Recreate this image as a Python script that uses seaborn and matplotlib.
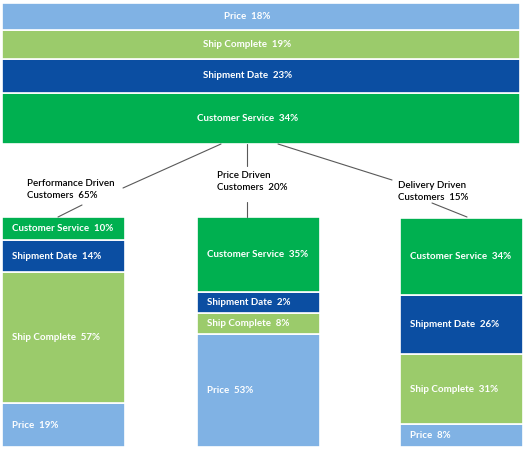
import numpy as np
import pandas as pd
import matplotlib
matplotlib.use('Agg')
import matplotlib.pyplot as plt
from matplotlib.lines import Line2D
from matplotlib.colors import to_hex
import seaborn as sns

# Chart data
segments = ['Customer Service', 'Shipment Date', 'Ship Complete', 'Price']
overall = [34, 23, 19, 18]
groups = ['Performance Driven\nCustomers', 'Price Driven\nCustomers', 'Delivery Driven\nCustomers']
group_share = [65, 20, 15]
performance = [10, 14, 57, 19]
price_driven = [35, 2, 8, 53]
delivery = [34, 26, 31, 8]

colors = {'Customer Service': '#00B050', 'Shipment Date': '#0B4EA2',
          'Ship Complete': '#9BCB6B', 'Price': '#80B2E4'}

sns.set_style('white')
plt.rcParams['font.family'] = ['Lato', 'DejaVu Sans']

W, H = 525, 450
fig = plt.figure(figsize=(W / 100, H / 100), dpi=100)


def px_axes(x0, y0, x1, y1):
    # pixel box (top-left origin) -> figure fraction axes
    return fig.add_axes([x0 / W, 1 - y1 / H, (x1 - x0) / W, (y1 - y0) / H])


def fig_xy(x, y):
    return x / W, 1 - y / H


def draw_stack(ax, values, hue_order, align='left', min_share=0):
    # seaborn stacks the first hue level on top
    shown = np.maximum(np.array(values, dtype=float), min_share)
    shown = shown / shown.sum() * 100  # keep every bar full height
    df = pd.DataFrame({'segment': segments, 'share': shown, 'pos': 0})
    sns.histplot(data=df, x='pos', hue='segment', weights='share', multiple='stack',
                 discrete=True, shrink=1, hue_order=hue_order, palette=colors,
                 alpha=1, edgecolor='white', linewidth=1.2, legend=False, ax=ax)
    ax.set_xlim(-0.5, 0.5)
    ax.set_ylim(0, 100)
    ax.axis('off')
    lookup = {to_hex(c): s for s, c in colors.items()}
    for p in ax.patches:
        seg = lookup.get(to_hex(p.get_facecolor()))
        if seg is None or p.get_height() <= 0:
            continue
        val = values[segments.index(seg)]
        cy = p.get_y() + p.get_height() / 2
        if align == 'center':
            ax.annotate(f'{seg}  {val}%', (p.get_x() + p.get_width() / 2, cy),
                        xytext=(-10, 0), textcoords='offset points',
                        ha='center', va='center', color='white', fontsize=7, fontweight='bold')
        else:
            ax.annotate(f'{seg}  {val}%', (p.get_x(), cy), xytext=(7, 0),
                        textcoords='offset points', ha='left', va='center',
                        color='white', fontsize=7, fontweight='bold')


# overall bar at the top (Price on top, Customer Service at the bottom)
ax_top = px_axes(2, 3, 520, 144)
draw_stack(ax_top, overall, segments[::-1], align='center')

# the three customer groups (Customer Service on top); tiny shares get a
# minimum height so their labels fit
boxes = [(2, 217, 125, 447), (197, 217, 320, 447), (400, 218, 523, 447)]
for box, vals in zip(boxes, [performance, price_driven, delivery]):
    ax = px_axes(*box)
    draw_stack(ax, vals, segments, min_share=10)

# group captions
caption_pos = [(27, 179), (217, 171), (398, 181)]
for (x, y), name, share in zip(caption_pos, groups, group_share):
    fig.text(*fig_xy(x, y), f'{name}  {share}%', ha='left', va='top',
             fontsize=7, fontweight='semibold', color='black', linespacing=1.5)

# connector lines
connectors = [((221, 144), (123, 188)), ((82, 205), (58, 217)),
              ((247, 144), (247, 166)), ((247, 202), (247, 217)),
              ((278, 144), (392, 180)), ((432, 203), (467, 217))]
for a, b in connectors:
    (x0, y0), (x1, y1) = fig_xy(*a), fig_xy(*b)
    fig.add_artist(Line2D([x0, x1], [y0, y1], transform=fig.transFigure,
                          color='#595959', linewidth=0.8))

fig.savefig('out.png', dpi=100)
